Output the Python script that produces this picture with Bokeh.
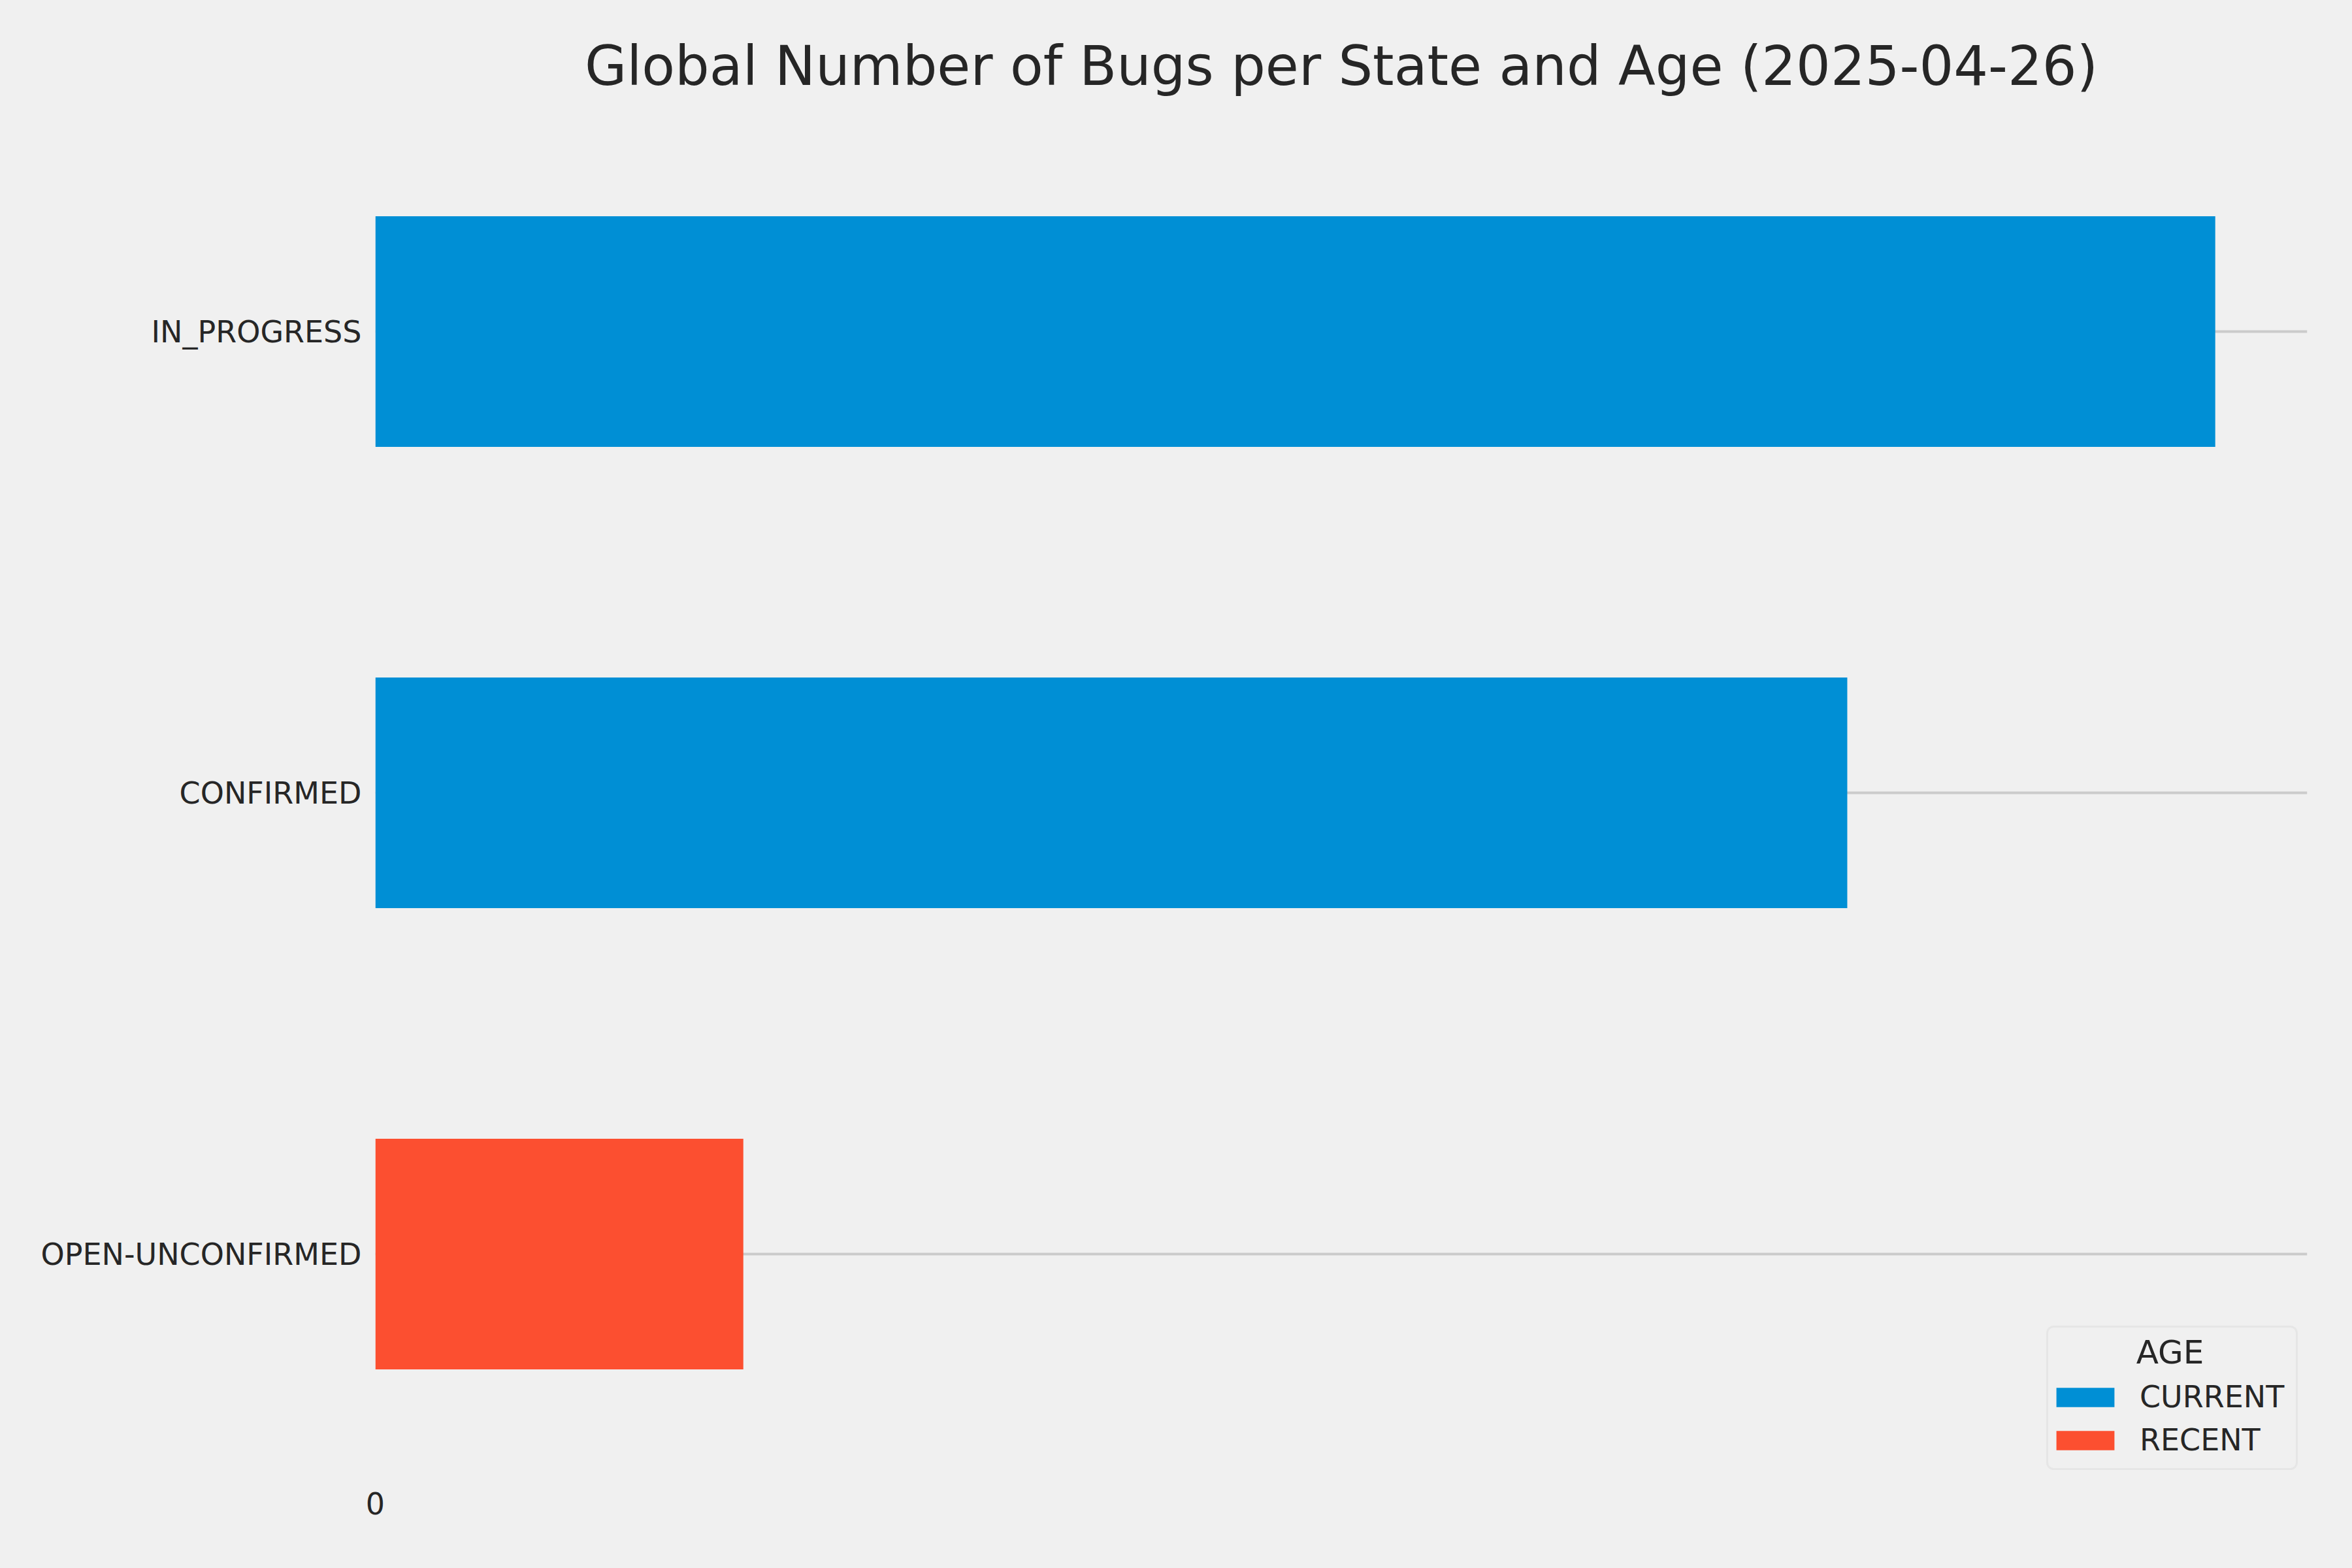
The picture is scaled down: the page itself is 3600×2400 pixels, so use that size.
from bokeh.plotting import figure
from bokeh.models import FactorRange, Range1d, FixedTicker, Legend, LegendItem, Label, BoxAnnotation
from bokeh.embed import file_html
from bokeh.resources import INLINE

states = ["OPEN-UNCONFIRMED", "CONFIRMED", "IN_PROGRESS"]
ages = ["CURRENT", "RECENT"]
current = [0, 4, 5]
recent = [1, 0, 0]
colors = ["#008fd5", "#fc4f30"]
x_ticks = [0]

BG = "#f0f0f0"
TXT = "#262626"
FONT = "DejaVu Sans"

p = figure(width=3584, height=2384, y_range=FactorRange(*states, range_padding=0),
           x_range=Range1d(0, 5.25), output_backend="svg", toolbar_location=None,
           min_border_left=574, min_border_right=53, min_border_top=154, min_border_bottom=112)
p.background_fill_color = None
p.border_fill_color = BG
p.outline_line_color = None

src = dict(state=states, CURRENT=current, RECENT=recent)
bars = p.hbar_stack(ages, y="state", height=0.5, color=colors, source=src, line_color=None)

p.title.text = "Global Number of Bugs per State and Age (2025-04-26)"
p.title.text_font = FONT
p.title.text_font_size = "83px"
p.title.text_font_style = "normal"
p.title.text_color = TXT
p.title.align = "center"

p.xgrid.grid_line_color = None
p.ygrid.grid_line_color = "#cbcbcb"
p.ygrid.grid_line_width = 4

p.xaxis.ticker = FixedTicker(ticks=x_ticks)
for ax in (p.xaxis[0], p.yaxis[0]):
    ax.axis_line_color = None
    ax.major_tick_line_color = None
    ax.minor_tick_line_color = None
    ax.major_label_text_font = FONT
    ax.major_label_text_font_size = "46px"
    ax.major_label_text_color = TXT
p.xaxis.major_label_standoff = 5
p.yaxis.major_label_standoff = 15

# legend frame (rounded box) behind a transparent legend
legend_box = BoxAnnotation(left=2559, right=2941, bottom=24, top=242,
                           left_units="screen", right_units="screen",
                           bottom_units="screen", top_units="screen",
                           fill_color=BG, fill_alpha=1, line_color="#d0d0d0",
                           line_width=3, border_radius=10, level="annotation")
p.add_layout(legend_box)

legend = Legend(items=[LegendItem(label=a, renderers=[rr]) for a, rr in zip(ages, bars)],
                location=(2562, 41))
legend.label_text_font = FONT
legend.label_text_font_size = "46px"
legend.label_text_color = TXT
legend.glyph_width = 111
legend.glyph_height = 37
legend.label_height = 54
legend.label_standoff = 28
legend.spacing = 12
legend.padding = 8
legend.margin = 0
legend.background_fill_alpha = 0
legend.border_line_color = None
p.add_layout(legend)

age_title = Label(x=2747, y=203, x_units="screen", y_units="screen", text="AGE",
                  text_align="center", text_baseline="middle",
                  text_font=FONT, text_font_size="50px", text_color=TXT, level="overlay")
p.add_layout(age_title)

html = file_html(p, INLINE)
html = html.replace("<head>", "<head><style>html,body{background:#f0f0f0;}</style>", 1)
open("out.html", "w").write(html)
